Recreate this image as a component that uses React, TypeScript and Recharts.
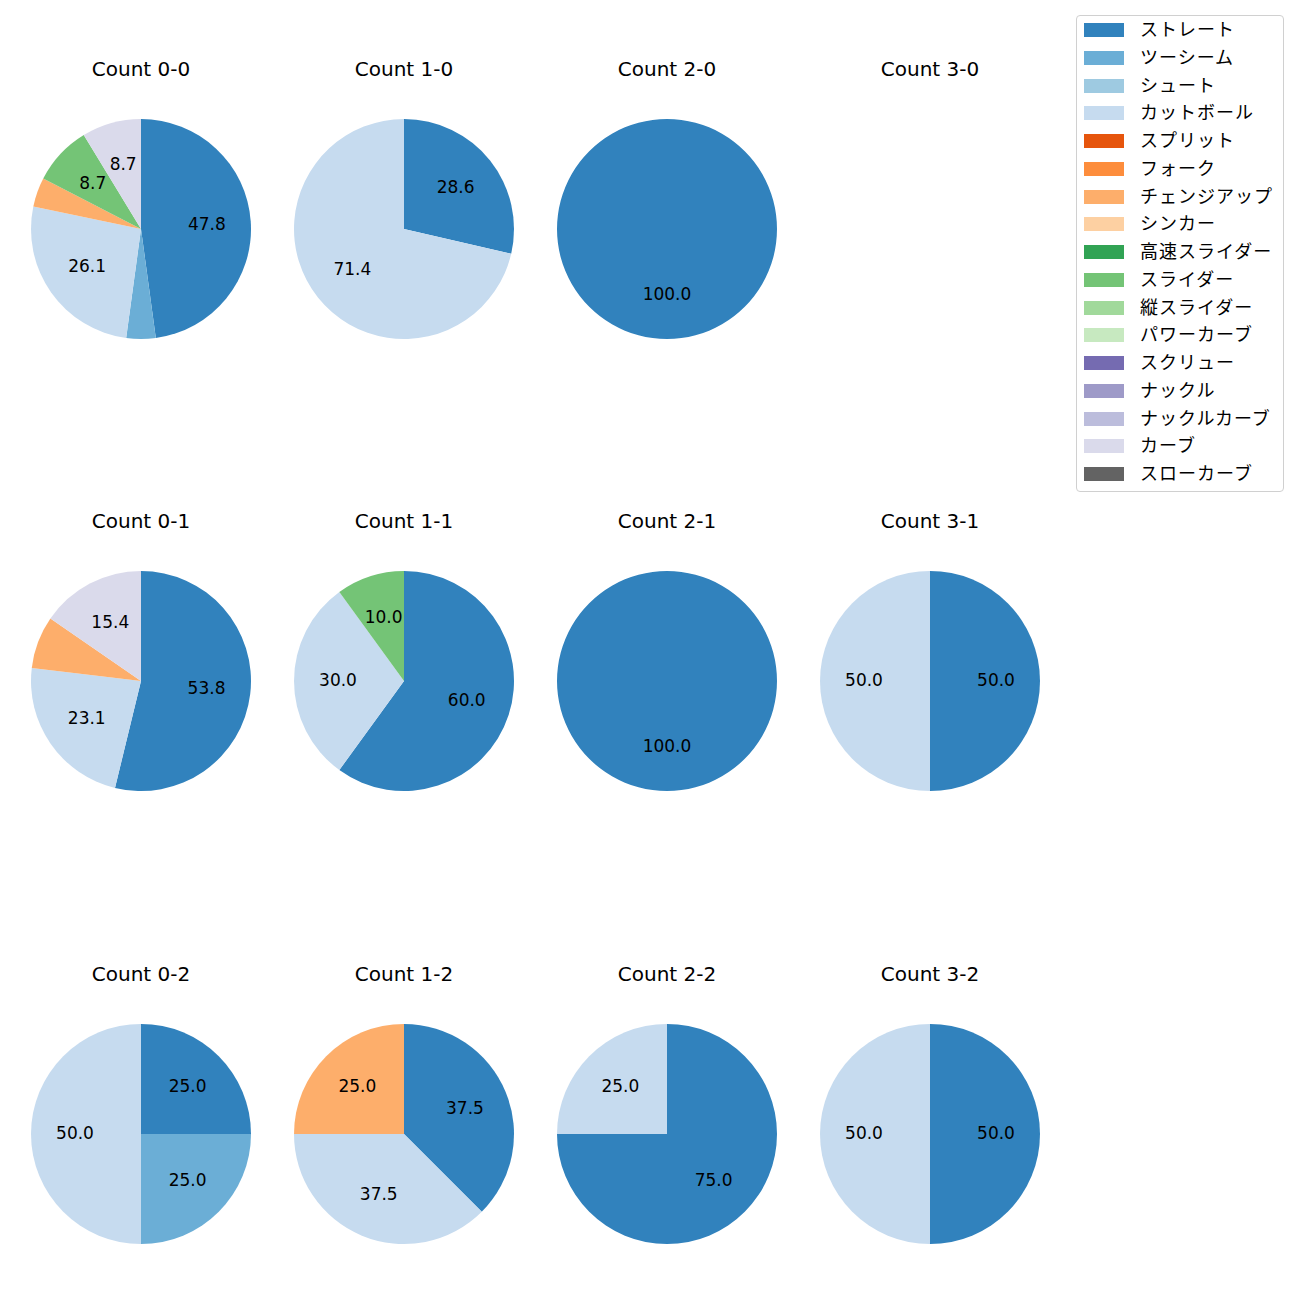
import React from "react";
import { PieChart, Pie, Cell } from "recharts";

const pitchTypes = [
  "ストレート", "ツーシーム", "シュート", "カットボール", "スプリット", "フォーク",
  "チェンジアップ", "シンカー", "高速スライダー", "スライダー", "縦スライダー",
  "パワーカーブ", "スクリュー", "ナックル", "ナックルカーブ", "カーブ", "スローカーブ",
];
const pitchColors = [
  "#3182bd", "#6baed6", "#9ecae1", "#c6dbef", "#e6550d", "#fd8d3c",
  "#fdae6b", "#fdd0a2", "#31a354", "#74c476", "#a1d99b",
  "#c7e9c0", "#756bb1", "#9e9ac8", "#bcbddc", "#dadaeb", "#636363",
];

const count00Types = ["ストレート", "ツーシーム", "カットボール", "チェンジアップ", "スライダー", "カーブ"];
const count00Values = [47.8, 4.3, 26.1, 4.3, 8.7, 8.7];
const count10Types = ["ストレート", "カットボール"];
const count10Values = [28.6, 71.4];
const count20Types = ["ストレート"];
const count20Values = [100];
const count01Types = ["ストレート", "カットボール", "チェンジアップ", "カーブ"];
const count01Values = [53.8, 23.1, 7.7, 15.4];
const count11Types = ["ストレート", "カットボール", "スライダー"];
const count11Values = [60, 30, 10];
const count21Types = ["ストレート"];
const count21Values = [100];
const count31Types = ["ストレート", "カットボール"];
const count31Values = [50, 50];
const count02Types = ["ストレート", "ツーシーム", "カットボール"];
const count02Values = [25, 25, 50];
const count12Types = ["ストレート", "カットボール", "チェンジアップ"];
const count12Values = [37.5, 37.5, 25];
const count22Types = ["ストレート", "カットボール"];
const count22Values = [75, 25];
const count32Types = ["ストレート", "カットボール"];
const count32Values = [50, 50];

const colX = [141, 404, 667, 930];
const rowY = [229, 681, 1134];
const radius = 110;

const panels = [
  { title: "Count 0-0", col: 0, row: 0, types: count00Types, values: count00Values },
  { title: "Count 1-0", col: 1, row: 0, types: count10Types, values: count10Values },
  { title: "Count 2-0", col: 2, row: 0, types: count20Types, values: count20Values },
  { title: "Count 3-0", col: 3, row: 0, types: [], values: [] },
  { title: "Count 0-1", col: 0, row: 1, types: count01Types, values: count01Values },
  { title: "Count 1-1", col: 1, row: 1, types: count11Types, values: count11Values },
  { title: "Count 2-1", col: 2, row: 1, types: count21Types, values: count21Values },
  { title: "Count 3-1", col: 3, row: 1, types: count31Types, values: count31Values },
  { title: "Count 0-2", col: 0, row: 2, types: count02Types, values: count02Values },
  { title: "Count 1-2", col: 1, row: 2, types: count12Types, values: count12Values },
  { title: "Count 2-2", col: 2, row: 2, types: count22Types, values: count22Values },
  { title: "Count 3-2", col: 3, row: 2, types: count32Types, values: count32Values },
];

const font = '"DejaVu Sans", "Noto Sans CJK JP", sans-serif';
const RAD = Math.PI / 180;

// matplotlib-style autopct: value at 0.6 of the radius, small slices left blank
const renderLabel = (props: any) => {
  const { cx, cy, midAngle, outerRadius, percent } = props;
  if (percent < 0.08) return null;
  const r = outerRadius * 0.6;
  const x = cx + r * Math.cos(-midAngle * RAD);
  const y = cy + r * Math.sin(-midAngle * RAD);
  return (
    <text x={x} y={y - 1} textAnchor="middle" dominantBaseline="central" fill="#000" fontSize={17} fontFamily={font}>
      {(percent * 100).toFixed(1)}
    </text>
  );
};

export default function App() {
  return (
    <div style={{ position: "absolute", left: 0, top: 0, width: 1300, height: 1300, background: "#fff", fontFamily: font }}>
      <PieChart width={1300} height={1300} margin={{ top: 0, right: 0, bottom: 0, left: 0 }}>
        {panels
          .filter((p) => p.values.length > 0)
          .map((p) => (
            <Pie
              key={p.title}
              data={p.types.map((t, i) => ({ name: t, value: p.values[i] }))}
              dataKey="value"
              nameKey="name"
              cx={colX[p.col]}
              cy={rowY[p.row]}
              outerRadius={radius}
              startAngle={90}
              endAngle={-270}
              stroke="none"
              label={renderLabel}
              labelLine={false}
              isAnimationActive={false}
            >
              {p.types.map((t) => (
                <Cell key={t} fill={pitchColors[pitchTypes.indexOf(t)]} />
              ))}
            </Pie>
          ))}
      </PieChart>

      {panels.map((p) => (
        <div
          key={p.title}
          style={{
            position: "absolute",
            left: colX[p.col] - 100,
            top: rowY[p.row] - 160 - 12,
            width: 200,
            height: 24,
            lineHeight: "24px",
            textAlign: "center",
            fontSize: 20,
            color: "#000",
          }}
        >
          {p.title}
        </div>
      ))}

      <div
        style={{
          position: "absolute",
          left: 1076,
          top: 15,
          width: 208,
          height: 477,
          border: "1px solid #d0d0d0",
          borderRadius: 4,
          boxSizing: "border-box",
        }}
      >
        {pitchTypes.map((t, i) => (
          <div
            key={t}
            style={{ position: "absolute", left: 0, top: i * 27.75, height: 28, width: 208 }}
          >
            <div
              style={{
                position: "absolute",
                left: 7,
                top: 7,
                width: 40,
                height: 14,
                background: pitchColors[i],
              }}
            />
            <div
              style={{
                position: "absolute",
                left: 63,
                top: 0,
                height: 28,
                lineHeight: "28px",
                fontSize: 18,
                letterSpacing: 1,
                color: "#000",
                whiteSpace: "nowrap",
              }}
            >
              {t}
            </div>
          </div>
        ))}
      </div>
    </div>
  );
}
